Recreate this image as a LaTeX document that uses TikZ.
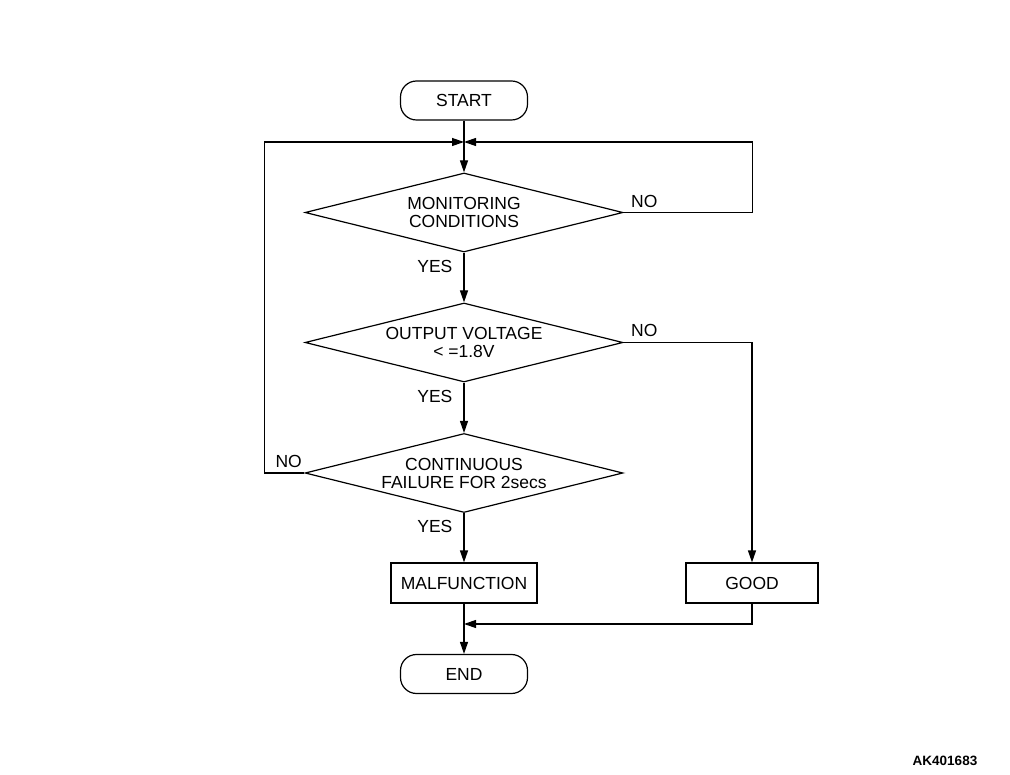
\documentclass[tikz,border=0pt]{standalone}
\usepackage{fontspec}
\setmainfont{Liberation Sans}
\usetikzlibrary{shapes.geometric,arrows.meta,calc}
\begin{document}
\begin{tikzpicture}[x=1pt,y=-1pt,line width=1.2pt,
  every node/.style={font=\fontsize{17.5}{18}\selectfont},
  term/.style={draw, rounded corners=16pt, minimum width=127pt, minimum height=39pt, inner sep=0pt},
  proc/.style={draw, minimum height=40pt, inner sep=0pt},
  dec/.style={draw, diamond, shape aspect=4, minimum width=318pt, minimum height=79pt, inner sep=0pt, align=center},
  lbl/.style={inner sep=0pt},
  arr/.style={-{Triangle[length=12pt,width=8pt]}}]
\useasboundingbox (0,0) rectangle (1010,775);
\node[term] (start) at (464,100.5) {START};
\node[dec] (d1) at (464,212.5) {MONITORING\\CONDITIONS};
\node[dec] (d2) at (464,342.5) {OUTPUT VOLTAGE\\\textless{} =1.8V};
\node[dec] (d3) at (464,473) {CONTINUOUS\\FAILURE FOR 2secs};
\node[proc, minimum width=146pt] (mal) at (464,583) {MALFUNCTION};
\node[proc, minimum width=132pt] (good) at (752,583) {GOOD};
\node[term] (end) at (464,674) {END};
\coordinate (j) at (464,142);
\coordinate (jb) at (464,624);
\draw[arr] (start) -- (d1);
\draw[arr] (d1.east) -- ++(129,0) |- (j);
\draw[arr] (d3.west) -- ++(-40,0) |- (j);
\draw[arr] (d1.south) -- (d2.north);
\draw[arr] (d2.south) -- (d3.north);
\draw[arr] (d3.south) -- (mal.north);
\draw[arr] (d2.east) -| (good.north);
\draw[arr] (good.south) |- (jb);
\draw[arr] (mal) -- (end);
\node[lbl, anchor=north east] (y1) at ($(d1.south)+(-11,7)$) {YES};
\node[lbl, anchor=north east] (y2) at ($(d2.south)+(-11,7)$) {YES};
\node[lbl, anchor=north east] (y3) at ($(d3.south)+(-11,7)$) {YES};
\node[lbl, anchor=south west] (n1) at ($(d1.east)+(7,-4)$) {NO};
\node[lbl, anchor=south west] (n2) at ($(d2.east)+(7,-5)$) {NO};
\node[lbl, anchor=south east] (n3) at ($(d3.west)+(-2,-5)$) {NO};
\node[font=\fontsize{13.5}{14}\selectfont\bfseries] (ak) at (945,761) {AK401683};
\end{tikzpicture}
\end{document}
